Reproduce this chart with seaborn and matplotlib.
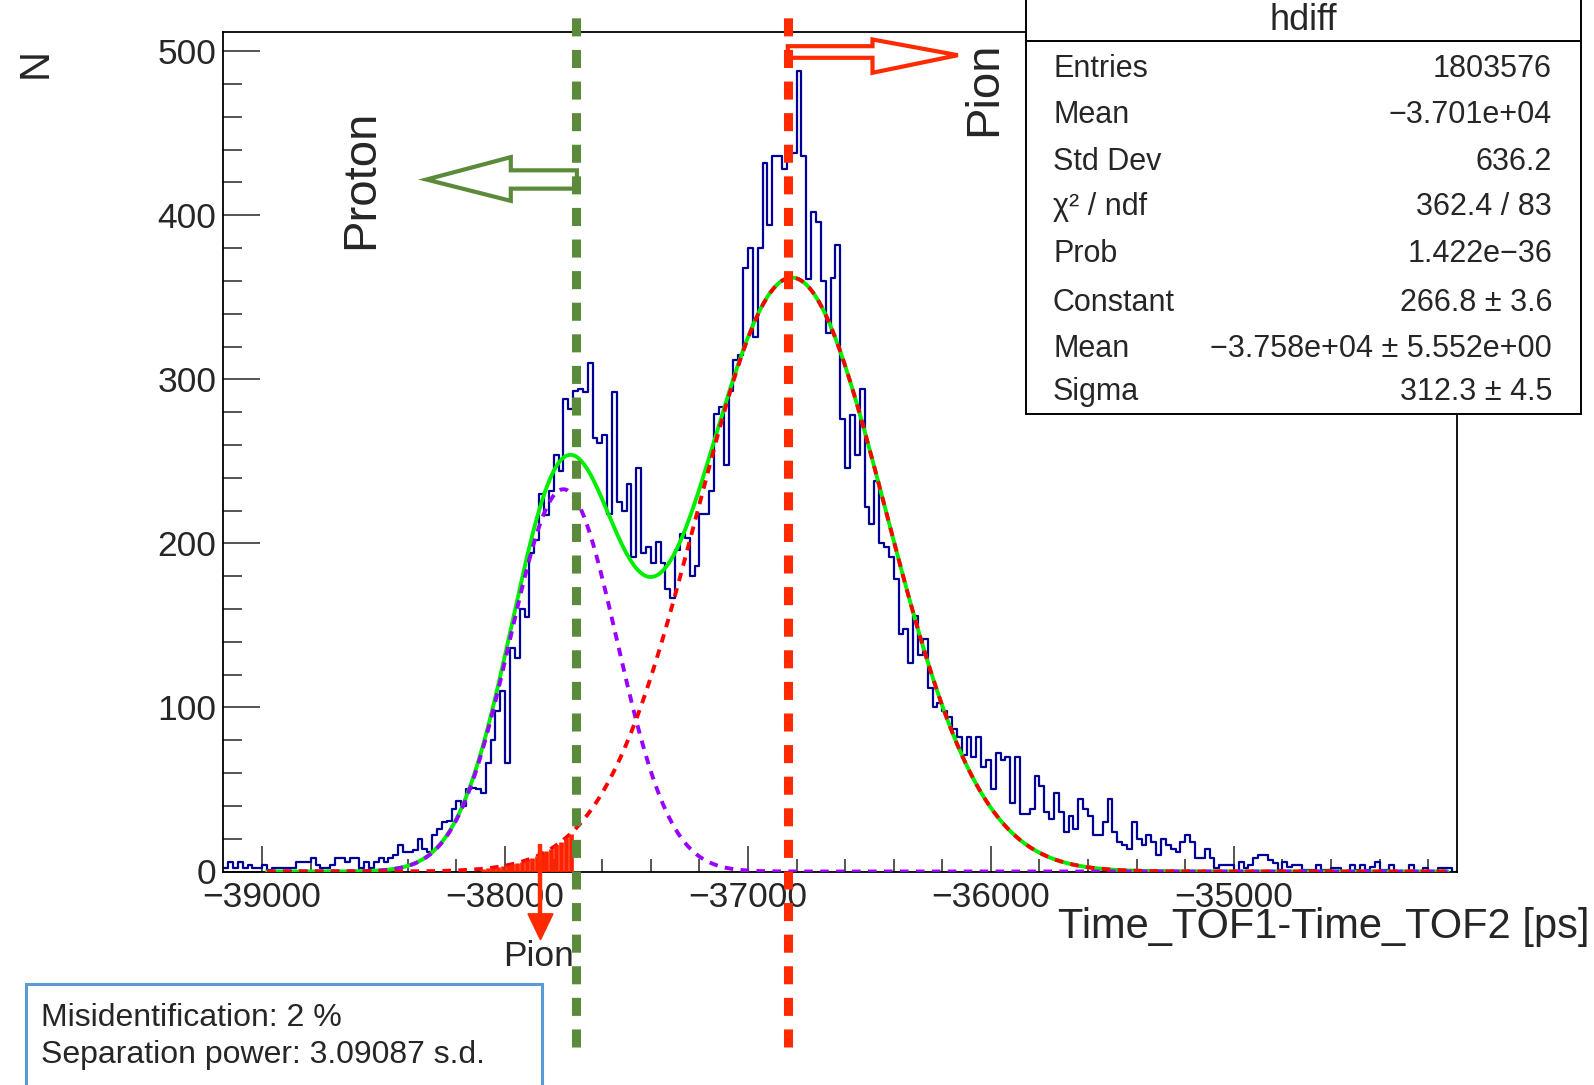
import numpy as np
import pandas as pd
import matplotlib
matplotlib.use("Agg")
import matplotlib.pyplot as plt
import seaborn as sns
from matplotlib.patches import Polygon, Rectangle

# ---------------- data ----------------
hist_low = -39160
bin_width = 20
counts = [
    2, 6, 2, 6, 2, 4, 2, 2, 4, 1,
    2, 2, 2, 2, 2, 6, 6, 6, 8, 4,
    2, 2, 4, 8, 8, 6, 8, 8, 2, 6,
    2, 6, 8, 6, 8, 10, 16, 12, 12, 13,
    20, 14, 12, 22, 26, 30, 31, 38, 43, 40,
    50, 51, 50, 48, 66, 80, 98, 110, 66, 136,
    130, 160, 155, 194, 202, 230, 217, 232, 254, 244,
    288, 282, 293, 294, 292, 310, 264, 261, 266, 218,
    292, 225, 220, 236, 192, 246, 194, 198, 188, 201,
    188, 172, 167, 196, 206, 203, 180, 186, 218, 218,
    232, 279, 283, 248, 293, 312, 315, 368, 380, 326,
    380, 432, 394, 436, 436, 428, 437, 438, 488, 436,
    361, 402, 396, 360, 328, 362, 382, 276, 246, 278,
    254, 294, 222, 212, 238, 200, 198, 192, 178, 145,
    148, 127, 156, 132, 142, 112, 100, 103, 98, 94,
    87, 82, 71, 82, 70, 82, 64, 68, 50, 72,
    68, 70, 42, 70, 35, 35, 38, 58, 52, 36,
    32, 48, 36, 24, 34, 26, 44, 38, 34, 22,
    22, 30, 44, 24, 18, 16, 14, 30, 20, 16,
    22, 18, 10, 20, 16, 14, 12, 18, 22, 18,
    8, 8, 14, 8, 2, 4, 4, 4, 0, 6,
    2, 4, 8, 10, 10, 7, 5, 1, 6, 3,
    4, 4, 1, 1, 1, 4, 1, 1, 2, 2,
    0, 0, 4, 1, 4, 1, 3, 6, 1, 1,
    4, 0, 0, 0, 4, 0, 0, 2, 0, 0,
    2, 2, 2, 0,
]
# Gaussian fit components: amplitude, mean, sigma
proton_fit = [233, -37760, 220]
pion_fit = [362, -36820, 388]
fit_range = [-38980, -34120]
proton_cut_x = -37710
pion_cut_x = -36835
misid_range = [-38090, -37730]

x_ticks = [-39000, -38000, -37000, -36000, -35000]
y_ticks = [0, 100, 200, 300, 400, 500]

stats_names = ["Entries", "Mean", "Std Dev", "\u03c7\u00b2 / ndf", "Prob",
               "Constant", "Mean", "Sigma"]
stats_values = ["1803576", "\u22123.701e+04", "636.2", "362.4 / 83",
                "1.422e\u221236", "266.8 \u00b1 3.6",
                "\u22123.758e+04 \u00b1 5.552e+00", "312.3 \u00b1 4.5"]
info_lines = ["Misidentification: 2 %", "Separation power: 3.09087 s.d."]

# ---------------- style ----------------
sns.set_style("white")
plt.rcParams["font.family"] = ["Liberation Sans", "DejaVu Sans"]
plt.rcParams["axes.unicode_minus"] = True

W, H = 1594, 1085
fig = plt.figure(figsize=(W / 100, H / 100), dpi=100)
L, R, T, B = 223.3, 1457.3, 31.5, 871.5
ax = fig.add_axes([L / W, 1 - B / H, (R - L) / W, (B - T) / H])

nbins = len(counts)
hist_high = hist_low + bin_width * nbins
centers = hist_low + bin_width * (np.arange(nbins) + 0.5)
df = pd.DataFrame({"t": centers, "n": np.asarray(counts, dtype=float)})
sns.histplot(data=df, x="t", weights="n", binwidth=bin_width,
             binrange=(hist_low, hist_high), element="step",
             fill=False, color="#000099", linewidth=1.6, ax=ax, zorder=2)

xs = np.linspace(fit_range[0], fit_range[1], 1500)
g_p = proton_fit[0] * np.exp(-0.5 * ((xs - proton_fit[1]) / proton_fit[2]) ** 2)
g_pi = pion_fit[0] * np.exp(-0.5 * ((xs - pion_fit[1]) / pion_fit[2]) ** 2)
ax.plot(xs, g_p + g_pi, color="#00ee00", lw=2.8, zorder=3)
ax.plot(xs, g_p, color="#9900ff", lw=2.8, linestyle=(0, (2.2, 1.9)), zorder=4)
ax.plot(xs, g_pi, color="#ff0000", lw=2.8, linestyle=(0, (2.2, 1.9)), zorder=5)

# misidentification area under pion gaussian (comb of bars)
mx = np.arange(misid_range[0], misid_range[1] + 1, 20)
my = pion_fit[0] * np.exp(-0.5 * ((mx - pion_fit[1]) / pion_fit[2]) ** 2)
ax.vlines(mx, 0, my, color="#ff2200", lw=3.4, zorder=6)

# cut lines
ax.axvline(proton_cut_x, ymin=-0.209, ymax=1.028, color="#5b8a3a", lw=6.5,
           linestyle=(0, (2.0, 1.5)), clip_on=False, zorder=7)
ax.axvline(pion_cut_x, ymin=-0.209, ymax=1.028, color="#ff2a00", lw=6.5,
           linestyle=(0, (2.0, 1.5)), clip_on=False, zorder=7)

ax.set_xlim(hist_low, hist_high)
ax.set_ylim(0, 512)
ax.set_xticks(x_ticks)
ax.set_yticks(y_ticks)
ax.set_xticks(np.arange(-39000, -34000, 200), minor=True)
ax.set_yticks(np.arange(0, 512, 20), minor=True)
ax.tick_params(axis="x", which="major", direction="in", length=18.5, width=1.1,
               labelsize=25.5, pad=7, bottom=True, top=False)
ax.tick_params(axis="x", which="minor", direction="in", length=9.4, width=1.1,
               bottom=True, top=False)
ax.tick_params(axis="y", which="major", direction="in", length=26.5, width=1.1,
               labelsize=25.5, pad=5, left=True, right=False)
ax.tick_params(axis="y", which="minor", direction="in", length=13.5, width=1.1,
               left=True, right=False)
for s in ax.spines.values():
    s.set_visible(True)
    s.set_color("black")
    s.set_linewidth(1.3)
ax.set_xlabel("")
ax.set_ylabel("")


def px(x, y):
    return x / W, 1 - y / H


def dx(xp):
    return -39000 + (xp - 262.7) / 0.2429


def dy(yp):
    return (871.7 - yp) / 1.64


# arrows (hollow)
green_arrow = [(427, 180), (511.3, 157.6), (511.3, 170.8), (577.4, 170.8),
               (577.4, 189.1), (511.3, 189.1), (511.3, 201.3)]
ax.add_patch(Polygon([(dx(a), dy(b)) for a, b in green_arrow], closed=True,
                     fill=False, edgecolor="#5b8a3a", lw=3.0, zorder=8,
                     clip_on=False))
red_arrow = [(958.3, 55.7), (873, 40), (873, 46.7), (788.3, 46.7),
             (788.3, 58.3), (873, 58.3), (873, 73.3)]
ax.add_patch(Polygon([(dx(a), dy(b)) for a, b in red_arrow], closed=True,
                     fill=False, edgecolor="#ff2a00", lw=3.0, zorder=8,
                     clip_on=False))
# downward "Pion" arrow
ax.plot([dx(541), dx(541)], [dy(844), dy(916)], color="#ff2a00", lw=3.2,
        clip_on=False, zorder=8, solid_capstyle="butt")
ax.add_patch(Polygon([(dx(528.5), dy(914)), (dx(553.5), dy(914)),
                      (dx(541), dy(940))], closed=True, facecolor="#ff2a00",
                     edgecolor="#ff2a00", lw=1, clip_on=False, zorder=8))

# texts
fig.text(*px(360.9, 179), "Proton", rotation=90, fontsize=34, ha="center",
         va="center")
fig.text(*px(984, 88.4), "Pion", rotation=90, fontsize=34, ha="center",
         va="center")
fig.text(*px(539, 956), "Pion", fontsize=25.5, ha="center", va="center")
fig.text(*px(35.6, 63), "N", rotation=90, fontsize=30, ha="center",
         va="center")
fig.text(*px(1589, 927), "Time_TOF1-Time_TOF2 [ps]", fontsize=30,
         ha="right", va="center")

# stats box
bx0, bx1, by0, by1 = 1025.8, 1580.8, -5, 413.8
fig.patches.append(Rectangle(px(bx0, by1), (bx1 - bx0) / W, (by1 - by0) / H,
                             transform=fig.transFigure, facecolor="white",
                             edgecolor="black", lw=1.4, zorder=10))
fig.lines.append(plt.Line2D([bx0 / W, bx1 / W], [1 - 40.7 / H] * 2,
                            transform=fig.transFigure, color="black", lw=1.4,
                            zorder=11))
fig.text(*px(1303, 20), "hdiff", fontsize=26, ha="center", va="center",
         zorder=12)
row_y = [69, 115, 162, 207, 254, 303, 349, 392]
for yy, nm, val in zip(row_y, stats_names, stats_values):
    fig.text(*px(1053, yy), nm, fontsize=22, ha="left", va="center", zorder=12)
    fig.text(*px(1552, yy), val, fontsize=22, ha="right", va="center",
             zorder=12)

# info box
fig.patches.append(Rectangle(px(26.4, 1100), (541.9 - 26.4) / W,
                             (1100 - 984) / H, transform=fig.transFigure,
                             facecolor="white", edgecolor="#5b9bd5", lw=2.2,
                             zorder=10))
for yy, line in zip([1017.5, 1055], info_lines):
    fig.text(*px(41, yy), line, fontsize=23, ha="left", va="center", zorder=12)

fig.savefig("out.png", dpi=100)
